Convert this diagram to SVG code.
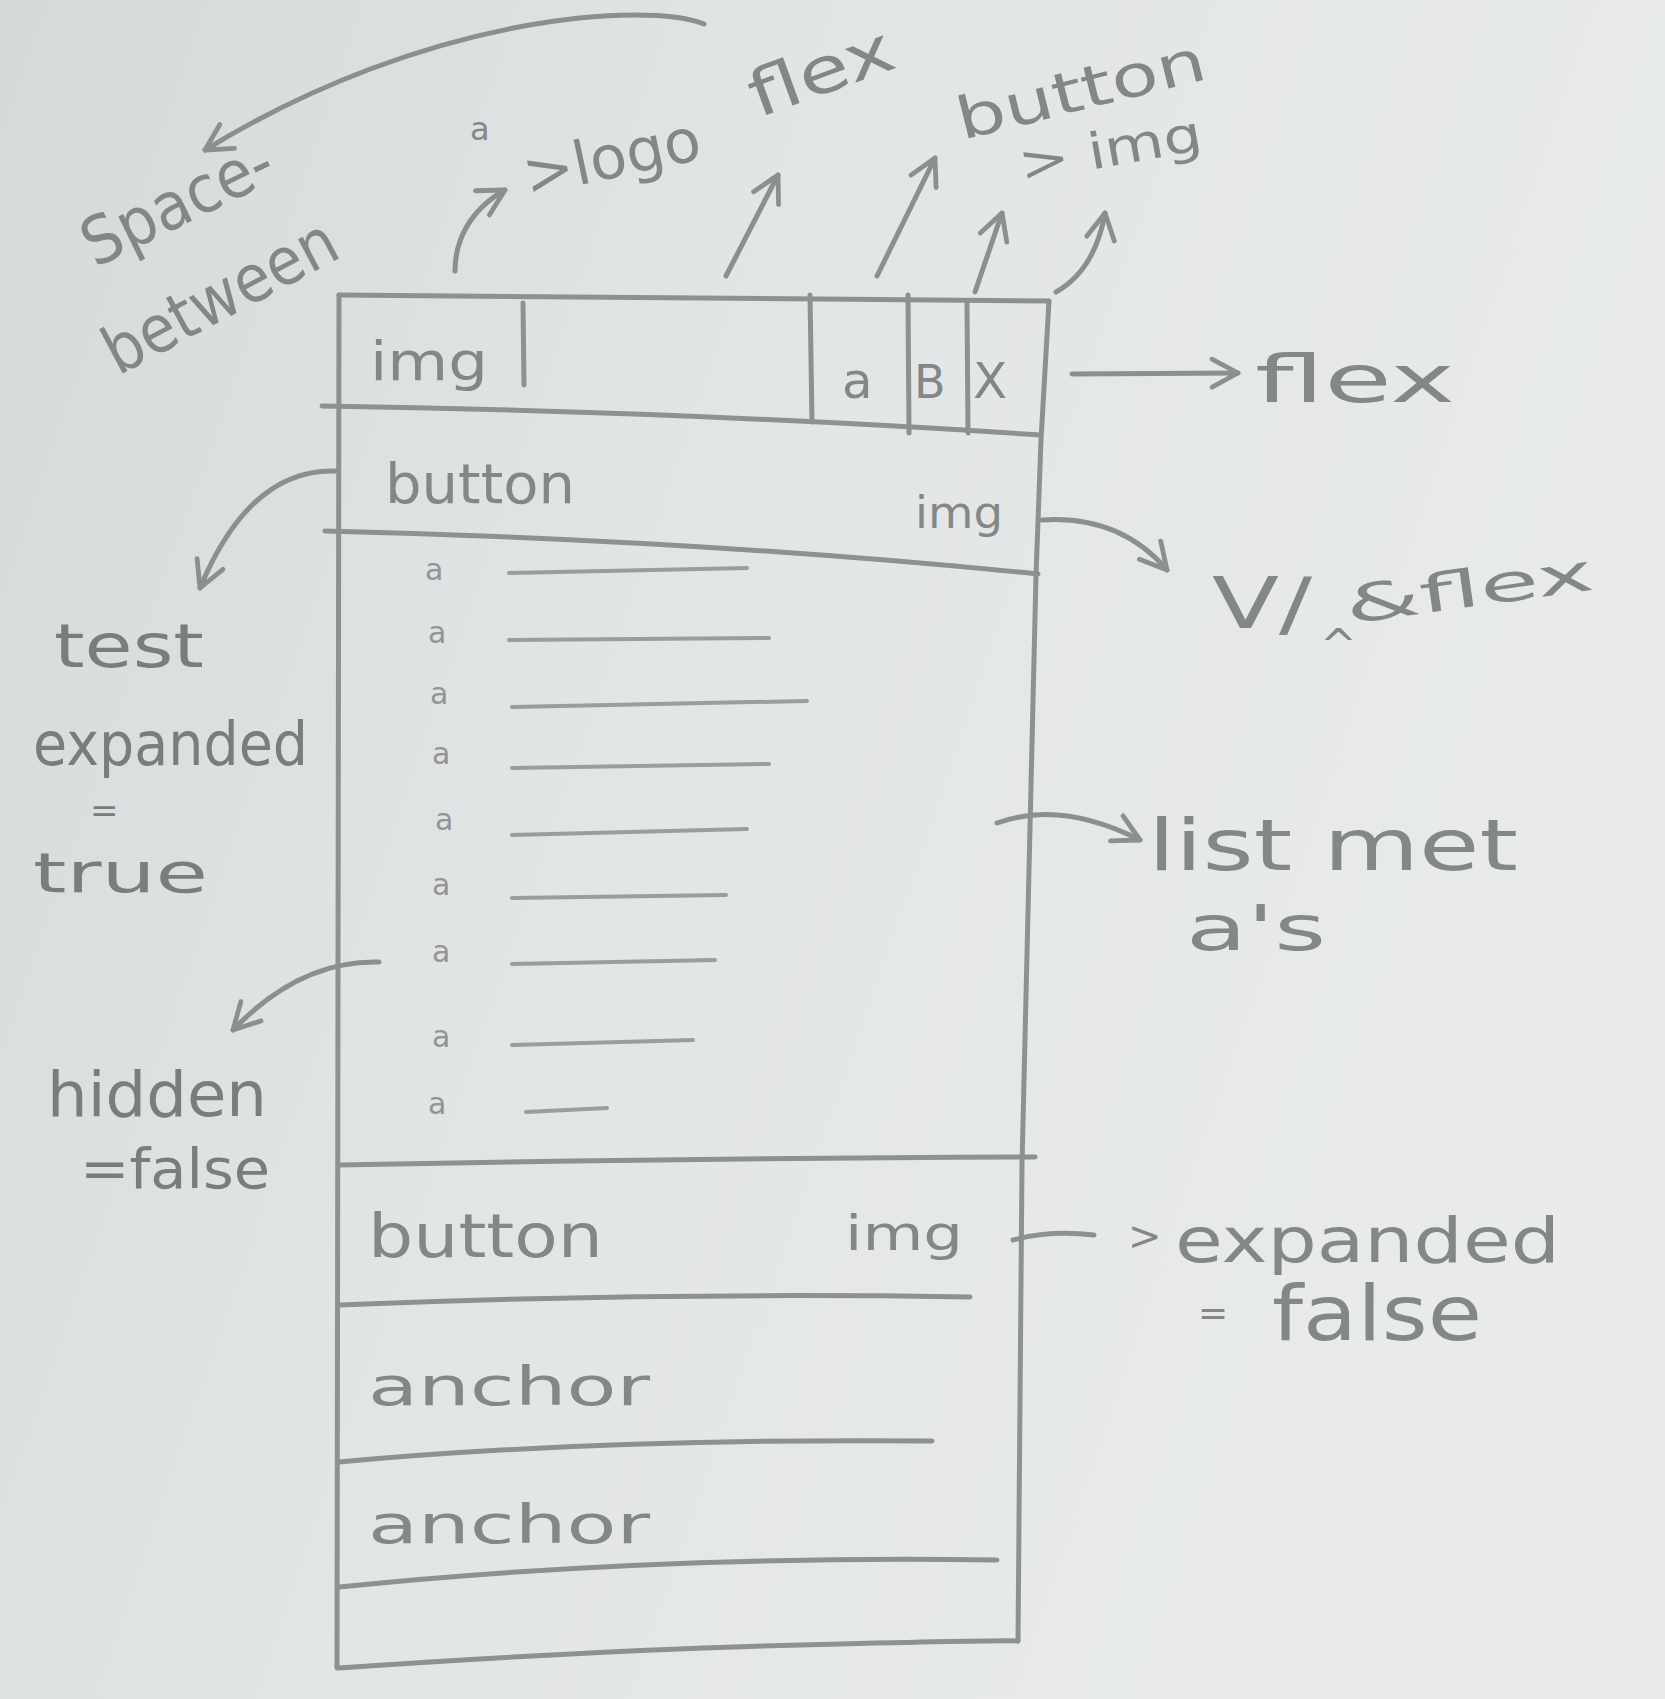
<svg xmlns="http://www.w3.org/2000/svg" width="1665" height="1699" viewBox="0 0 1665 1699">
  <defs>
    <linearGradient id="paper" x1="0" y1="0" x2="1" y2="0.35">
      <stop offset="0" stop-color="#d5d9d9"/>
      <stop offset="0.45" stop-color="#e2e5e5"/>
      <stop offset="1" stop-color="#e9ebeb"/>
    </linearGradient>
    <!-- open hand-drawn chevron used on every pencil arrow -->
    <marker id="chev" viewBox="0 0 20 20" refX="16" refY="10" markerWidth="8" markerHeight="8" markerUnits="strokeWidth" orient="auto">
      <path d="M3,3 L16,10 L3,17" fill="none" stroke="#8c8f8f" stroke-width="2.4" stroke-linecap="round" stroke-linejoin="round"/>
    </marker>
    <style>
      .pen { fill: none; stroke: #8e9191; stroke-width: 5; stroke-linecap: round; stroke-linejoin: round; }
      .thin { fill: none; stroke: #9a9d9d; stroke-width: 4; stroke-linecap: round; }
      .arrow { fill: none; stroke: #8c8f8f; stroke-width: 5; stroke-linecap: round; stroke-linejoin: round; marker-end: url(#chev); }
      .hand { font-family: "DejaVu Sans", "Liberation Sans", sans-serif; fill: #848787; }
      .dark { fill: #7a7d7d; }
      .item { font-family: "DejaVu Sans", "Liberation Sans", sans-serif; fill: #929595; font-size: 30px; }
    </style>
  </defs>

  <rect width="1665" height="1699" fill="url(#paper)"/>

  <!-- outer frame of the mobile menu -->
  <g id="frame">
    <path class="pen" d="M339,295 L1049,301"/>
    <path class="pen" d="M339,295 L337,1668"/>
    <path class="pen" d="M1049,301 L1041,440 L1036,575 L1022,1165 L1018,1641"/>
    <path class="pen" d="M339,1668 Q600,1650 800,1645 T1018,1641"/>
  </g>

  <!-- top bar: logo image, spacer, a / B / X buttons -->
  <g id="header">
    <path class="pen" d="M322,406 Q700,412 1040,435"/>
    <path class="pen" d="M523,303 L524,385"/>
    <path class="pen" d="M810,295 L812,422"/>
    <path class="pen" d="M908,295 L909,433"/>
    <path class="pen" d="M967,303 L968,433"/>
    <text class="hand" x="370" y="380" font-size="54" textLength="118" lengthAdjust="spacingAndGlyphs">img</text>
    <text class="hand" x="842" y="398" font-size="50">a</text>
    <text class="hand" x="914" y="398" font-size="46">B</text>
    <text class="hand" x="973" y="398" font-size="50">X</text>
  </g>

  <!-- expandable section toggle (open) -->
  <g id="toggle-open">
    <path class="pen" d="M325,531 Q700,540 1038,574"/>
    <text class="hand" x="385" y="503" font-size="56" textLength="190" lengthAdjust="spacingAndGlyphs">button</text>
    <text class="hand" x="915" y="528" font-size="44" textLength="88" lengthAdjust="spacingAndGlyphs">img</text>
  </g>

  <!-- list of links inside the open section -->
  <g id="link-list">
    <text class="item" x="425" y="580">a</text>
    <text class="item" x="428" y="643">a</text>
    <text class="item" x="430" y="704">a</text>
    <text class="item" x="432" y="764">a</text>
    <text class="item" x="435" y="830">a</text>
    <text class="item" x="432" y="895">a</text>
    <text class="item" x="432" y="962">a</text>
    <text class="item" x="432" y="1047">a</text>
    <text class="item" x="428" y="1114">a</text>
    <path class="thin" d="M509,573 L747,568"/>
    <path class="thin" d="M509,640 L769,638"/>
    <path class="thin" d="M512,707 L807,701"/>
    <path class="thin" d="M512,768 L769,764"/>
    <path class="thin" d="M512,835 L747,829"/>
    <path class="thin" d="M512,898 L726,895"/>
    <path class="thin" d="M512,964 L715,960"/>
    <path class="thin" d="M512,1045 L693,1040"/>
    <path class="thin" d="M526,1112 L607,1108"/>
    <path class="pen" d="M339,1165 Q700,1158 1035,1157"/>
  </g>

  <!-- expandable section toggle (closed) -->
  <g id="toggle-closed">
    <text class="hand" x="368" y="1257" font-size="60" textLength="235" lengthAdjust="spacingAndGlyphs">button</text>
    <text class="hand" x="845" y="1250" font-size="48" textLength="118" lengthAdjust="spacingAndGlyphs">img</text>
    <path class="pen" d="M339,1305 Q650,1292 970,1297"/>
  </g>

  <g id="anchor-1">
    <text class="hand" x="368" y="1405" font-size="54" textLength="282" lengthAdjust="spacingAndGlyphs">anchor</text>
    <path class="pen" d="M339,1462 Q600,1438 932,1441"/>
  </g>

  <g id="anchor-2">
    <text class="hand" x="368" y="1543" font-size="54" textLength="282" lengthAdjust="spacingAndGlyphs">anchor</text>
    <path class="pen" d="M339,1587 Q650,1555 997,1560"/>
  </g>

  <!-- pencil arrows from notes to parts of the layout -->
  <g id="connectors">
    <path class="arrow" d="M704,24 C650,2 430,12 205,150"/>
    <path class="arrow" d="M455,271 C455,240 470,210 505,190"/>
    <path class="arrow" d="M726,276 L778,175"/>
    <path class="arrow" d="M877,276 L935,158"/>
    <path class="arrow" d="M975,292 L1002,213"/>
    <path class="arrow" d="M1056,292 Q1095,270 1105,213"/>
    <path class="arrow" d="M1072,374 L1238,373"/>
    <path class="arrow" d="M1042,520 Q1120,515 1167,570"/>
    <path class="arrow" d="M997,823 Q1060,800 1140,840"/>
    <path class="pen" d="M1013,1240 Q1050,1230 1094,1235"/>
    <path class="arrow" d="M336,471 Q250,468 200,588"/>
    <path class="arrow" d="M379,962 Q300,960 233,1030"/>
  </g>

  <!-- notes -->
  <g id="note-space-between">
    <text class="hand" font-size="66" transform="translate(95,268) rotate(-26)" textLength="205" lengthAdjust="spacingAndGlyphs">Space-</text>
    <text class="hand" font-size="66" transform="translate(118,376) rotate(-28)" textLength="255" lengthAdjust="spacingAndGlyphs">between</text>
  </g>

  <g id="note-logo">
    <text class="hand" x="470" y="140" font-size="32">a</text>
    <text class="hand" font-size="60" transform="translate(528,196) rotate(-12)" textLength="180" lengthAdjust="spacingAndGlyphs">&gt;logo</text>
  </g>

  <g id="note-flex-top">
    <text class="hand" font-size="64" transform="translate(758,118) rotate(-20)" textLength="150" lengthAdjust="spacingAndGlyphs">flex</text>
  </g>

  <g id="note-button-img">
    <text class="hand" font-size="58" transform="translate(962,140) rotate(-14)" textLength="255" lengthAdjust="spacingAndGlyphs">button</text>
    <text class="hand" font-size="50" transform="translate(1022,182) rotate(-10)" textLength="185" lengthAdjust="spacingAndGlyphs">&gt; img</text>
  </g>

  <g id="note-flex-right">
    <text class="hand" x="1255" y="402" font-size="66" textLength="200" lengthAdjust="spacingAndGlyphs">flex</text>
  </g>

  <g id="note-chevron">
    <text class="hand" x="1212" y="628" font-size="72" textLength="100" lengthAdjust="spacingAndGlyphs">V/</text>
    <text class="hand" x="1320" y="660" font-size="44">^</text>
    <text class="hand" font-size="52" transform="translate(1348,624) rotate(-8)" textLength="250" lengthAdjust="spacingAndGlyphs">&amp;flex</text>
  </g>

  <g id="note-list">
    <text class="hand" x="1148" y="870" font-size="72" textLength="370" lengthAdjust="spacingAndGlyphs">list met</text>
    <text class="hand" x="1186" y="950" font-size="62" textLength="140" lengthAdjust="spacingAndGlyphs">a's</text>
  </g>

  <g id="note-expanded-false">
    <text class="hand" x="1128" y="1250" font-size="40">&gt;</text>
    <text class="hand" x="1175" y="1262" font-size="62" textLength="385" lengthAdjust="spacingAndGlyphs">expanded</text>
    <text class="hand" x="1198" y="1325" font-size="36">=</text>
    <text class="hand" x="1272" y="1340" font-size="76" textLength="210" lengthAdjust="spacingAndGlyphs">false</text>
  </g>

  <g id="note-expanded-true">
    <text class="hand dark" x="54" y="667" font-size="60" textLength="150" lengthAdjust="spacingAndGlyphs">test</text>
    <text class="hand dark" x="33" y="765" font-size="60" textLength="275" lengthAdjust="spacingAndGlyphs">expanded</text>
    <text class="hand dark" x="90" y="822" font-size="34">=</text>
    <text class="hand dark" x="33" y="892" font-size="56" textLength="175" lengthAdjust="spacingAndGlyphs">true</text>
  </g>

  <g id="note-hidden-false">
    <text class="hand dark" x="47" y="1116" font-size="62" textLength="220" lengthAdjust="spacingAndGlyphs">hidden</text>
    <text class="hand dark" x="80" y="1188" font-size="56" textLength="190" lengthAdjust="spacingAndGlyphs">=false</text>
  </g>
</svg>
